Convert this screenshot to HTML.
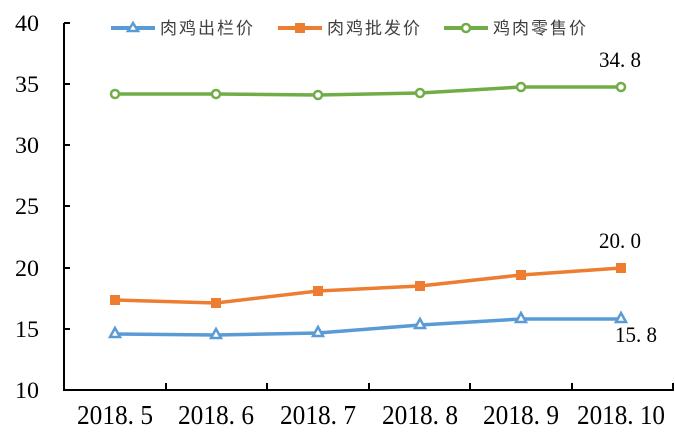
<!DOCTYPE html>
<html><head><meta charset="utf-8"><style>
html,body{margin:0;padding:0;background:#fff;}
svg{display:block;}
</style></head><body>
<svg width="675" height="436" xmlns="http://www.w3.org/2000/svg">
<rect width="675" height="436" fill="#fff"/>
<g stroke="#000" stroke-width="2" fill="none">
<line x1="64" y1="23" x2="64" y2="390"/>
<line x1="63" y1="390" x2="674" y2="390"/>
<line x1="64" y1="23" x2="70" y2="23"/>
<line x1="64" y1="84" x2="70" y2="84"/>
<line x1="64" y1="145" x2="70" y2="145"/>
<line x1="64" y1="206" x2="70" y2="206"/>
<line x1="64" y1="268" x2="70" y2="268"/>
<line x1="64" y1="329" x2="70" y2="329"/>
<line x1="166" y1="390" x2="166" y2="383"/>
<line x1="267" y1="390" x2="267" y2="383"/>
<line x1="369" y1="390" x2="369" y2="383"/>
<line x1="470" y1="390" x2="470" y2="383"/>
<line x1="572" y1="390" x2="572" y2="383"/>
<line x1="673" y1="390" x2="673" y2="383"/>
</g>
<g font-family="Liberation Serif, serif" font-size="23" fill="#000" text-anchor="end">
<text x="39" y="31" textLength="24" lengthAdjust="spacingAndGlyphs">40</text>
<text x="39" y="92" textLength="24" lengthAdjust="spacingAndGlyphs">35</text>
<text x="39" y="153" textLength="24" lengthAdjust="spacingAndGlyphs">30</text>
<text x="39" y="214" textLength="24" lengthAdjust="spacingAndGlyphs">25</text>
<text x="39" y="276" textLength="24" lengthAdjust="spacingAndGlyphs">20</text>
<text x="39" y="337" textLength="24" lengthAdjust="spacingAndGlyphs">15</text>
<text x="39" y="398" textLength="24" lengthAdjust="spacingAndGlyphs">10</text>
</g>
<g font-family="Liberation Serif, serif" font-size="27" fill="#000" text-anchor="middle">
<text x="115" y="424" textLength="76" lengthAdjust="spacingAndGlyphs">2018. 5</text>
<text x="216" y="424" textLength="76" lengthAdjust="spacingAndGlyphs">2018. 6</text>
<text x="318" y="424" textLength="76" lengthAdjust="spacingAndGlyphs">2018. 7</text>
<text x="420" y="424" textLength="76" lengthAdjust="spacingAndGlyphs">2018. 8</text>
<text x="521" y="424" textLength="76" lengthAdjust="spacingAndGlyphs">2018. 9</text>
<text x="621" y="424" textLength="88" lengthAdjust="spacingAndGlyphs">2018. 10</text>
<text x="620" y="67" font-size="22" textLength="42" lengthAdjust="spacingAndGlyphs">34. 8</text>
<text x="620" y="248" font-size="22" textLength="42" lengthAdjust="spacingAndGlyphs">20. 0</text>
<text x="636" y="342" font-size="22" textLength="42" lengthAdjust="spacingAndGlyphs">15. 8</text>
</g>
<polyline fill="none" stroke="#70ad47" stroke-width="3.5" points="115,94 216,94 318,95 420,93 521,87 621,87"/>
<g fill="#fff" stroke="#70ad47" stroke-width="2.5">
<circle cx="115" cy="94" r="4"/><circle cx="216" cy="94" r="4"/><circle cx="318" cy="95" r="4"/><circle cx="420" cy="93" r="4"/><circle cx="521" cy="87" r="4"/><circle cx="621" cy="87" r="4"/>
</g>
<polyline fill="none" stroke="#ed7d31" stroke-width="3.5" points="115,300 216,303 318,291 420,286 521,275 621,268"/>
<g fill="#ed7d31">
<rect x="110" y="295" width="10" height="10"/><rect x="211" y="298" width="10" height="10"/><rect x="313" y="286" width="10" height="10"/><rect x="415" y="281" width="10" height="10"/><rect x="516" y="270" width="10" height="10"/><rect x="616" y="263" width="10" height="10"/>
</g>
<polyline fill="none" stroke="#5b9bd5" stroke-width="3.5" points="115,334 216,335 318,333 420,325 521,319 621,319"/>
<g fill="#fff" stroke="#5b9bd5" stroke-width="2.5">
<polygon points="115,328 110,337 120,337"/><polygon points="216,329 211,338 221,338"/><polygon points="318,327 313,336 323,336"/><polygon points="420,319 415,328 425,328"/><polygon points="521,313 516,322 526,322"/><polygon points="621,313 616,322 626,322"/>
</g>
<g font-family="Liberation Sans, 'Noto Sans CJK SC', sans-serif" font-size="17" fill="#404040" letter-spacing="2">
<line x1="111" y1="28" x2="155" y2="28" stroke="#5b9bd5" stroke-width="4"/>
<polygon points="133,23 128,31 138,31" fill="#fff" stroke="#5b9bd5" stroke-width="2.5"/>
<text x="160" y="34">肉鸡出栏价</text>
<line x1="278" y1="28" x2="322" y2="28" stroke="#ed7d31" stroke-width="4"/>
<rect x="295" y="23" width="10" height="10" fill="#ed7d31"/>
<text x="327" y="34">肉鸡批发价</text>
<line x1="444" y1="28" x2="488" y2="28" stroke="#70ad47" stroke-width="4"/>
<circle cx="466" cy="28" r="4" fill="#fff" stroke="#70ad47" stroke-width="2.5"/>
<text x="493" y="34">鸡肉零售价</text>
</g>
</svg>
</body></html>
